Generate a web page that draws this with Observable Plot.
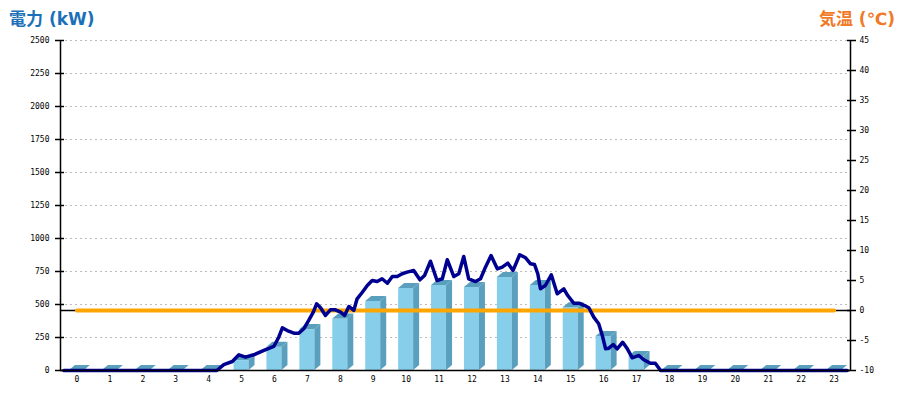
<!DOCTYPE html>
<html>
<head>
<meta charset="utf-8">
<script src="https://cdn.jsdelivr.net/npm/d3@7"></script>
<script src="https://cdn.jsdelivr.net/npm/@observablehq/plot@0.6"></script>
<style>
  html, body { margin: 0; padding: 0; background: #fff; }
  #wrap { width: 900px; }
  #head { position: relative; height: 30px; font-family: "DejaVu Sans", "Noto Sans CJK JP", sans-serif; font-weight: bold; font-size: 17px; }
  #tl { position: absolute; left: 9px; top: 5px; color: #1b70b8; }
  #tr { position: absolute; right: 5px; top: 5px; color: #f07a28; }
  svg { display: block; }
</style>
</head>
<body>
<div id="wrap">
  <div id="head"><span id="tl">電力 (kW)</span><span id="tr">気温 (℃)</span></div>
  <div id="chart"></div>
</div>
<script>
// ---- data ----
const hours = [0,1,2,3,4,5,6,7,8,9,10,11,12,13,14,15,16,17,18,19,20,21,22,23];
const hourlyPower = [0,0,0,0,0,75,176,310,391,523,621,644,629,705,644,475,258,106,0,0,0,0,0,0];
const temperature = [0,0,0,0,0,0,0,0,0,0,0,0,0,0,0,0,0,0,0,0,0,0,0,0];
const lineTime = [0.1,4.75,4.96,5.22,5.42,5.62,5.87,6.18,6.48,6.63,6.74,6.89,7.09,7.24,7.39,7.54,7.68,7.78,7.90,8.05,8.20,8.35,8.51,8.63,8.76,8.91,9.01,9.17,9.32,9.47,9.62,9.77,9.93,10.08,10.23,10.38,10.53,10.73,10.92,11.06,11.24,11.44,11.60,11.75,11.95,12.10,12.25,12.40,12.61,12.76,12.91,13.08,13.27,13.42,13.59,13.75,13.95,14.13,14.28,14.40,14.50,14.58,14.73,14.91,15.09,15.29,15.41,15.59,15.75,15.92,16.05,16.20,16.35,16.46,16.56,16.66,16.79,16.91,17.08,17.22,17.37,17.57,17.72,17.92,18.07,18.23,23.9];
const linePower = [0,0,45,68,119,101,119,152,182,252,323,303,283,283,316,379,442,505,475,417,460,460,442,417,485,455,543,593,644,682,674,695,661,712,712,733,745,758,687,720,828,682,695,839,712,733,864,695,674,695,783,871,770,783,813,758,877,854,808,803,733,619,644,725,581,619,568,510,510,492,475,404,354,265,164,169,197,164,214,164,96,114,81,55,55,0,0];
const powerTicks = [0,250,500,750,1000,1250,1500,1750,2000,2250,2500];
const tempTicks = [-10,-5,0,5,10,15,20,25,30,35,40,45];

// ---- dual axis mapping: temperature (-10..45) onto power (0..2500) ----
const P_MAX = 2500, T_MIN = -10, T_MAX = 45;
const t2p = t => (t - T_MIN) / (T_MAX - T_MIN) * P_MAX;

const frontColor = "#87ceeb", sideColor = "#5aa0be", topColor = "#5aa0be";

function bars3d(index, scales) {
  const x = scales.x, y = scales.y;
  const g = d3.create("svg:g");
  const dx = 6, dy = 5, half = 7.5;
  hours.forEach((h, i) => {
    const c = x(h), xL = c - half, xR = c + half;
    const yT = y(hourlyPower[i]), y0 = y(0);
    if (y0 - yT > 0) {
      g.append("rect").attr("x", xL).attr("y", yT).attr("width", xR - xL).attr("height", y0 - yT).attr("fill", frontColor);
      g.append("polygon").attr("points", [[xR, yT], [xR + dx, yT - dy], [xR + dx, y0 - dy], [xR, y0]].join(" ")).attr("fill", sideColor);
    }
    g.append("polygon").attr("points", [[xL, yT], [xL + dx, yT - dy], [xR + dx, yT - dy], [xR, yT]].join(" ")).attr("fill", topColor);
  });
  return g.node();
}

const lineData = lineTime.map((t, i) => ({t, p: linePower[i]}));
const tempData = hours.map((h, i) => ({h, T: temperature[i]}));

const plot = Plot.plot({
  width: 900,
  height: 370,
  marginLeft: 60,
  marginRight: 50,
  marginTop: 10,
  marginBottom: 30,
  style: {fontFamily: "DejaVu Sans Mono, monospace", fontSize: "8px", color: "#000", background: "#fff"},
  x: {type: "linear", domain: [-0.5, 23.5], label: null},
  y: {type: "linear", domain: [0, P_MAX], label: null},
  marks: [
    // dashed grid
    Plot.ruleY(powerTicks.filter(d => d > 0), {y: d => d, x1: -0.5, x2: 23.5, stroke: "#bdbdbd", strokeWidth: 1, strokeDasharray: "2,3"}),
    // 3D bars
    bars3d,
    // zero-temperature reference line
    Plot.ruleY([0], {y: d => t2p(d), x1: -0.5, x2: 23.5, stroke: "#000", strokeWidth: 1.5}),
    // temperature line
    Plot.line(tempData, {x: "h", y: d => t2p(d.T), stroke: "#ffa500", strokeWidth: 4}),
    // power line
    Plot.line(lineData, {x: d => d.t - 0.5, y: "p", stroke: "#000090", strokeWidth: 3.5, strokeLinejoin: "round"}),
    // axis lines
    Plot.ruleX([-0.5, 23.5], {x: d => d, y1: 0, y2: P_MAX, stroke: "#000", strokeWidth: 1.5}),
    Plot.ruleY([0], {y: d => d, x1: -0.5, x2: 23.5, stroke: "#000", strokeWidth: 1.5}),
    // tick marks
    Plot.ruleY(powerTicks, {y: d => d, x1: -0.5, x2: -0.5, insetLeft: -5, insetRight: -4, stroke: "#000", strokeWidth: 1.5}),
    Plot.ruleY(tempTicks, {y: d => t2p(d), x1: 23.5, x2: 23.5, insetLeft: -3, insetRight: -6, stroke: "#000", strokeWidth: 1.5}),
    // tick labels
    Plot.axisY(powerTicks, {anchor: "left", label: null, tickSize: 0, tickPadding: 11, tickFormat: d => String(d), fill: "#000"}),
    Plot.axisY(tempTicks.map(t2p), {anchor: "right", label: null, tickSize: 0, tickPadding: 9, tickFormat: v => String(Math.round(v / P_MAX * (T_MAX - T_MIN) + T_MIN)), fill: "#000"}),
    Plot.axisX(hours, {anchor: "bottom", label: null, tickSize: 0, tickPadding: 6, tickFormat: d => String(d), fill: "#000"})
  ]
});
document.getElementById("chart").appendChild(plot);
</script>
</body>
</html>
